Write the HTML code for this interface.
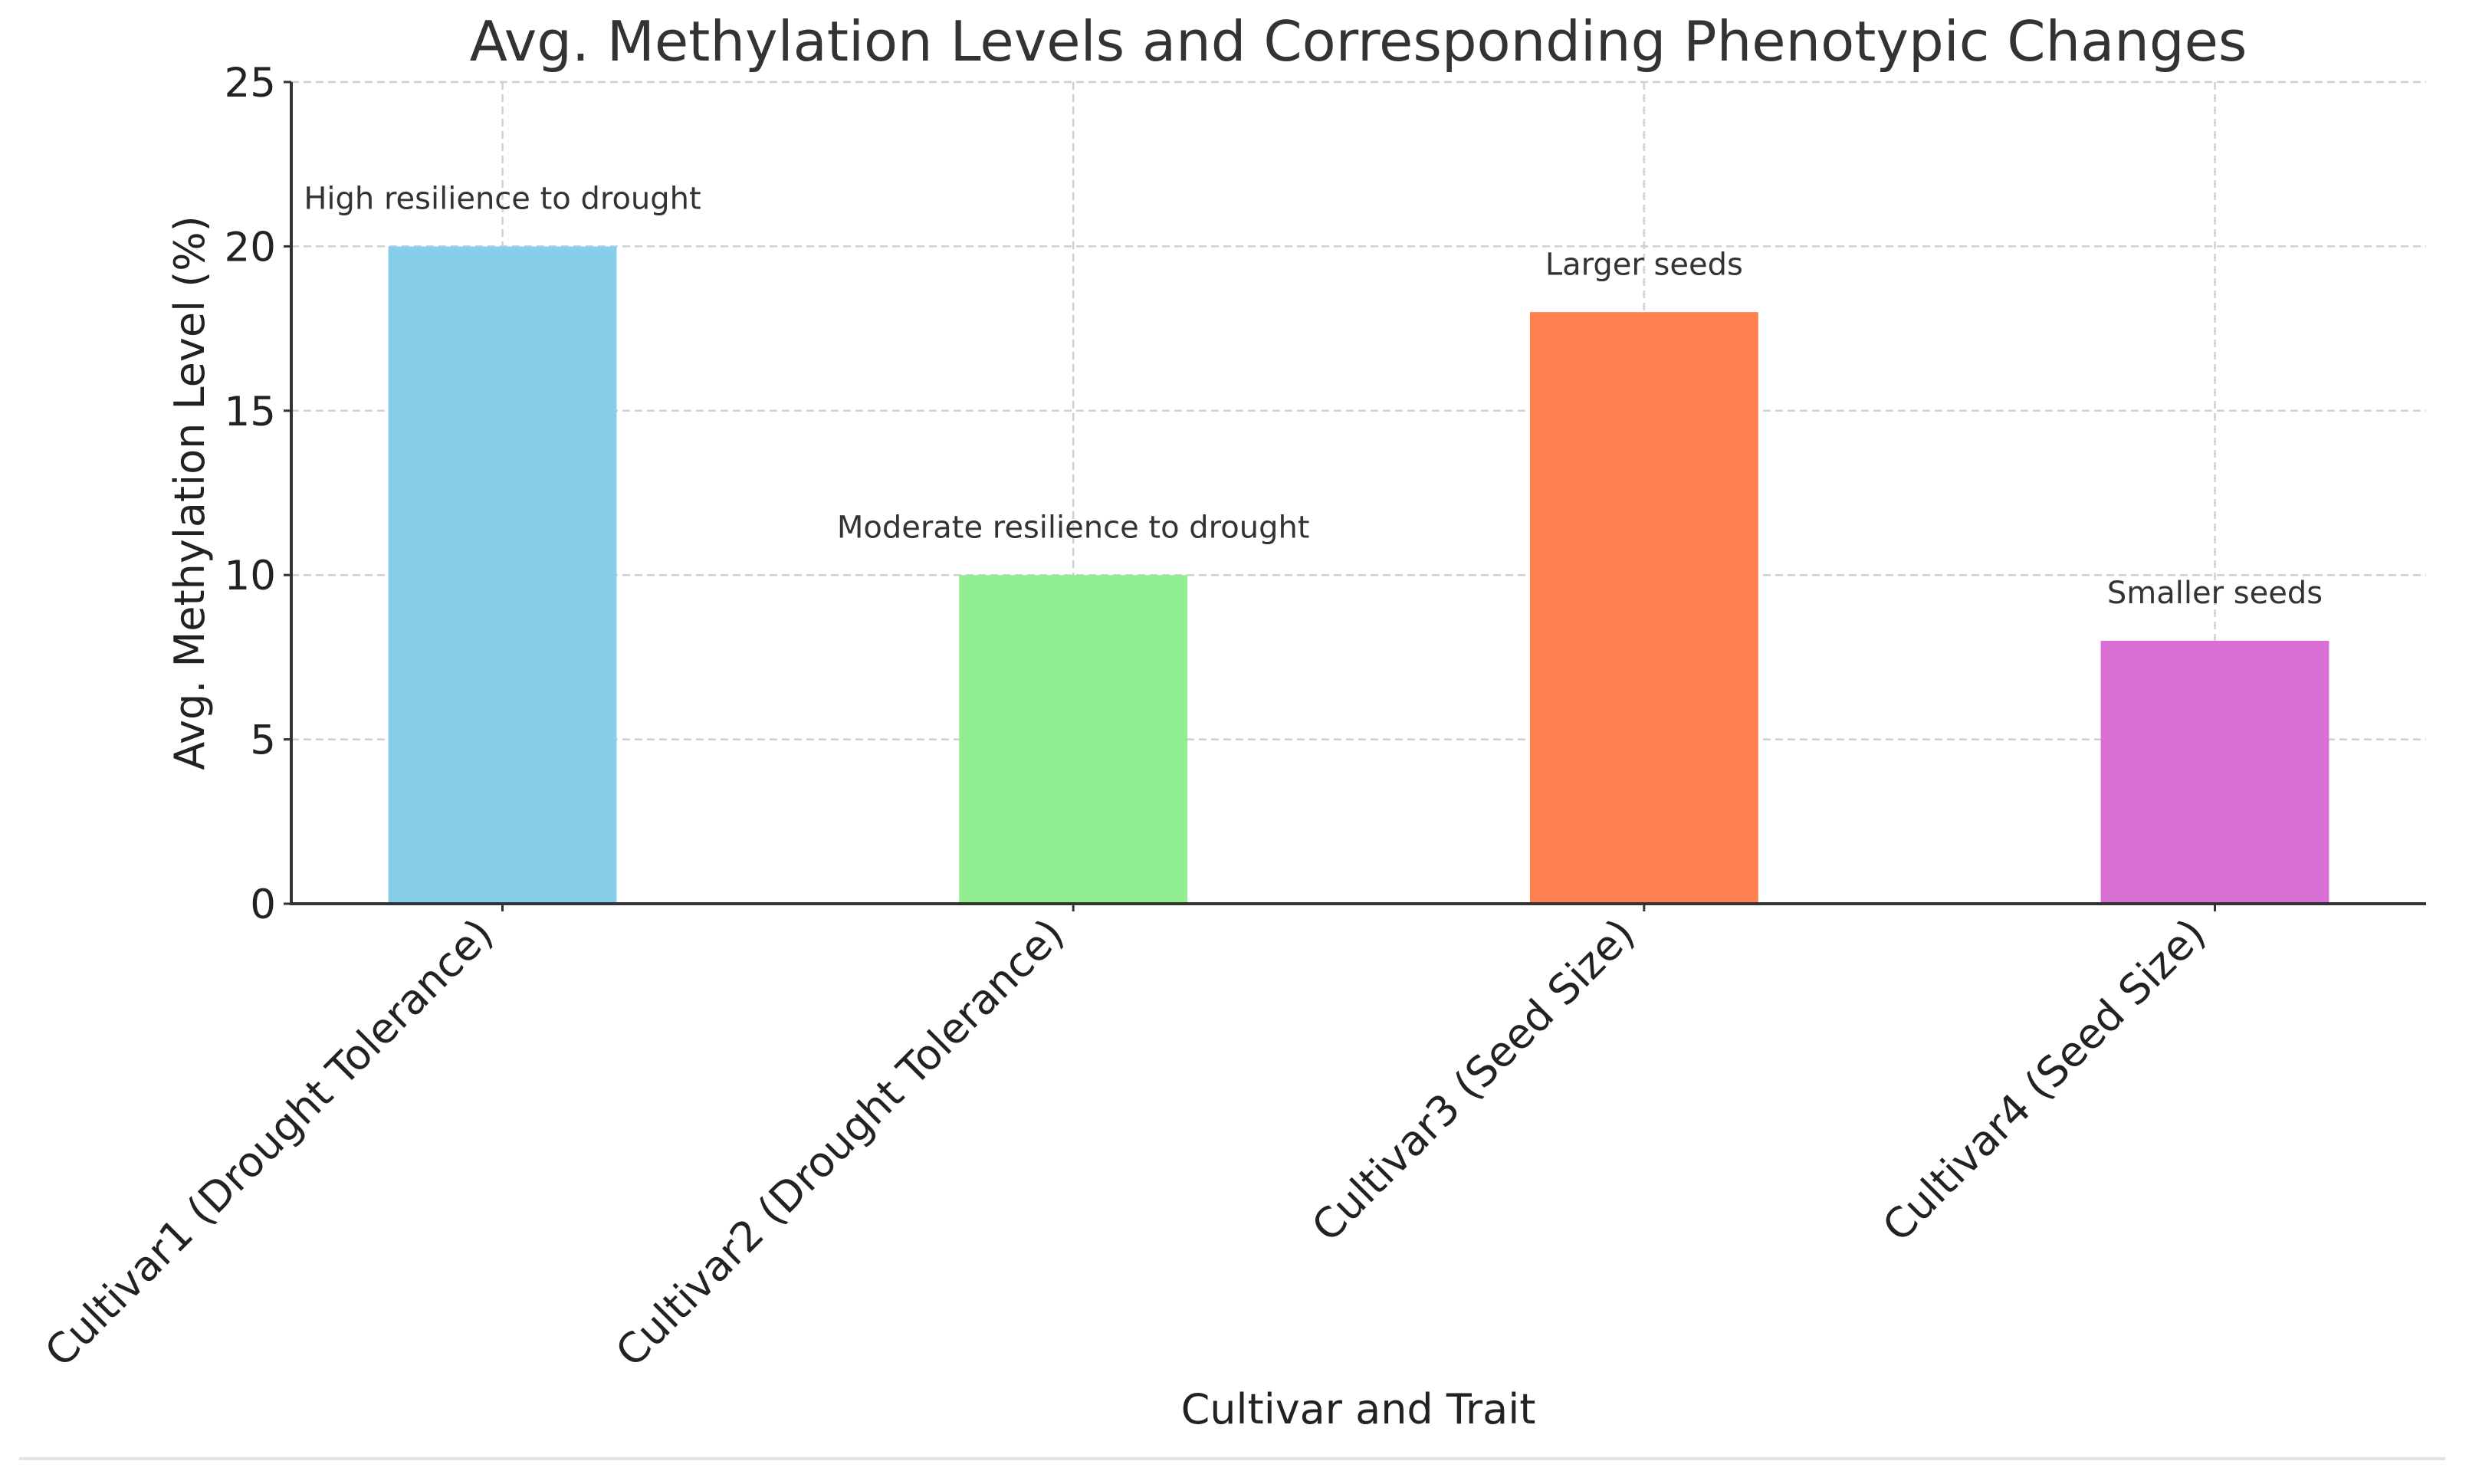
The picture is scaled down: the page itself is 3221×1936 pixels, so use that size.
<!DOCTYPE html>
<html><head><meta charset="utf-8"><style>
html,body{margin:0;padding:0;background:#fff;}
svg{display:block;font-family:"DejaVu Sans","Liberation Sans",sans-serif;}
</style></head><body>
<svg id="chart" width="3221" height="1936" viewBox="0 0 3221 1936" xmlns="http://www.w3.org/2000/svg">
<g id="grid"></g>
<g id="bars"></g>
<g id="annots"></g>
<g id="axes"></g>
<text x="1772" y="79" text-anchor="middle" font-size="72" fill="#333">Avg. Methylation Levels and Corresponding Phenotypic Changes</text>
<text transform="translate(266,643) rotate(-90)" text-anchor="middle" font-size="54" fill="#222">Avg. Methylation Level (%)</text>
<text x="1772" y="1857" text-anchor="middle" font-size="54" fill="#222">Cultivar and Trait</text>
<line x1="25" y1="1903" x2="3190" y2="1903" stroke="#e3e3e3" stroke-width="4"/>
</svg>
<script>
const categories = ["Cultivar1 (Drought Tolerance)","Cultivar2 (Drought Tolerance)","Cultivar3 (Seed Size)","Cultivar4 (Seed Size)"];
const values = [20, 10, 18, 8];
const traits = ["High resilience to drought","Moderate resilience to drought","Larger seeds","Smaller seeds"];
const colors = ["#87CEEB","#90EE90","#FF7F50","#DA70D6"];
const yTicks = [0, 5, 10, 15, 20, 25];

const NS = "http://www.w3.org/2000/svg";
const L = 380, R = 3165, T = 107, B = 1179;
const xMin = -0.37, xMax = categories.length - 1 + 0.37;
const yMax = 25;
function xs(v){ return L + (v - xMin) / (xMax - xMin) * (R - L); }
function ys(v){ return B - v / yMax * (B - T); }
function mk(tag, attrs, parent){ const e = document.createElementNS(NS, tag); for (const k in attrs) e.setAttribute(k, attrs[k]); parent.appendChild(e); return e; }

const grid = document.getElementById('grid');
const bars = document.getElementById('bars');
const annots = document.getElementById('annots');
const axes = document.getElementById('axes');
const bw = 0.4 * (R - L) / (xMax - xMin);

yTicks.forEach(t => {
  const g = mk('line', {x1:L, x2:R, y1:ys(t), y2:ys(t), stroke:'#d0d0d0', 'stroke-width':2.5, 'stroke-dasharray':'10,6'}, grid);
  
  
  const tk = mk('line', {x1:L-10, x2:L, y1:ys(t), y2:ys(t), stroke:'#333', 'stroke-width':3}, axes);
  
  
  const lb = mk('text', {x:L-20, y:ys(t)+19, 'text-anchor':'end', 'font-size':53, fill:'#222'}, axes);
  lb.textContent = t;
  
  
});

categories.forEach((c, i) => {
  const cx = xs(i);
  const r = mk('rect', {x:cx-bw/2, y:ys(values[i]), width:bw, height:B-ys(values[i]), fill:colors[i]}, bars);
  
  
  const g = mk('line', {x1:cx, x2:cx, y1:T, y2:B, stroke:'#d0d0d0', 'stroke-width':2.5, 'stroke-dasharray':'10,6'}, grid);
  
  
  const a = mk('text', {x:cx, y:ys(values[i]+1)-6, 'text-anchor':'middle', 'font-size':40, fill:'#333'}, annots);
  a.textContent = traits[i];
  
  
  const tk = mk('line', {x1:cx, x2:cx, y1:B, y2:B+10, stroke:'#333', 'stroke-width':3}, axes);
  
  
  const lb = mk('text', {transform:'translate(' + (cx-36) + ',' + (B+16) + ') rotate(-45)', 'text-anchor':'end', 'font-size':54, fill:'#222', dy:'0.7em'}, axes);
  lb.textContent = c;
  
  
});

const yAx = mk('line', {x1:L, x2:L, y1:T, y2:B, stroke:'#333', 'stroke-width':4}, axes);


const xAx = mk('line', {x1:L-2, x2:R, y1:B, y2:B, stroke:'#333', 'stroke-width':4}, axes);


</script>
</body></html>
